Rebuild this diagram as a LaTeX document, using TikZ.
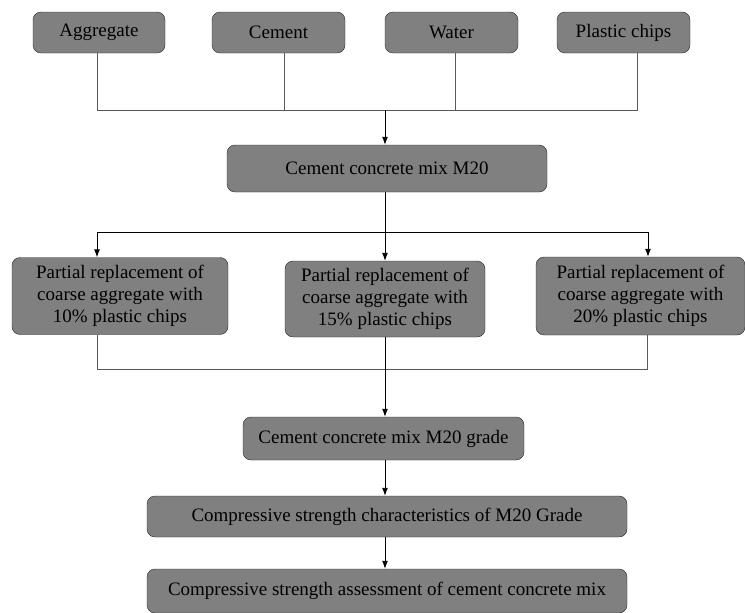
\documentclass[tikz,border=0pt]{standalone}
\usepackage{fontspec}
\setmainfont{Liberation Serif}
\newfontfamily\boxfont{Liberation Serif}
\usetikzlibrary{positioning, arrows.meta}
\tikzset{
x=1pt, y=-1pt,% one unit is one pixel of the sketch, y goes down
box/.style={draw=black!85, fill=gray, rounded corners=8pt, align=center, inner sep=0pt, font=\boxfont\fontsize{19}{22}\selectfont}, % grey rounded boxes
merge/.style={draw=black!65, line width=0.9pt}, % plain collecting lines
flow/.style={-{Latex[length=8pt,width=6pt]}, line width=0.9pt}, % directed edges
}
\begin{document}
\begin{tikzpicture}
        \useasboundingbox (0,0) rectangle (745,613);
        % materials
        \node[box, minimum width=132pt, minimum height=41pt] (agg) at (99,32.5) {Aggregate};
        \node[box, minimum width=133pt, minimum height=41pt] (cem) at (278.5,32.5) {Cement};
        \node[box, minimum width=133pt, minimum height=41pt] (wat) at (451.5,32.5) {Water};
        \node[box, minimum width=133pt, minimum height=41pt] (pla) at (623.5,32.5) {Plastic chips};
        \node[box, minimum width=320pt, minimum height=47pt] (mix) at (387,168.5) {Cement concrete mix M20};

        % replacement levels
        \node[box, minimum width=216pt, minimum height=77pt] (r10) at (120,296) {Partial replacement of\\coarse aggregate with\\10\% plastic chips};
        \node[box, minimum width=200pt, minimum height=76pt] (r15) at (385,299) {Partial replacement of\\coarse aggregate with\\15\% plastic chips};
        \node[box, minimum width=209pt, minimum height=78pt] (r20) at (640.5,296) {Partial replacement of\\coarse aggregate with\\20\% plastic chips};

        \node[box, minimum width=281pt, minimum height=43pt] (grade) at (383.5,438.5) {Cement concrete mix M20 grade};
        \node[box, minimum width=480pt, minimum height=41pt] (char) at (387,516.5) {Compressive strength characteristics of M20 Grade};
        \node[box, minimum width=480pt, minimum height=44pt] (asse) at (387,591) {Compressive strength assessment of cement concrete mix};

        % junction points
        \coordinate (ja) at (97,110);
        \coordinate (jc) at (284,110);
        \coordinate (jw) at (455,110);
        \coordinate (jp) at (637,110);
        \coordinate (jm) at (385,110);
        \coordinate (s1) at (97,232);
        \coordinate (sm) at (385,232);
        \coordinate (s3) at (648,232);
        \coordinate (t1) at (97,369);
        \coordinate (t3) at (647,369);

        \draw[merge] (ja |- agg.south) -- (ja) -- (jp) -- (jp |- pla.south);
        \draw[merge] (jc |- cem.south) -- (jc);
        \draw[merge] (jw |- wat.south) -- (jw);
        \draw[flow] (jm) -- (jm |- mix.north);

        \draw (sm |- mix.south) -- (sm);
        \draw (s1) -- (s3);
        \draw[flow] (s1) -- (s1 |- r10.north);
        \draw[flow] (sm) -- (sm |- r15.north);
        \draw[flow] (s3) -- (s3 |- r20.north);

        \draw[merge] (t1 |- r10.south) -- (t1) -- (t3) -- (t3 |- r20.south);
        \draw[flow] (sm |- r15.south) -- (sm |- grade.north);
        \draw[flow] (sm |- grade.south) -- (sm |- char.north);
        \draw[flow] (sm |- char.south) -- (sm |- asse.north);
\end{tikzpicture}
\end{document}
